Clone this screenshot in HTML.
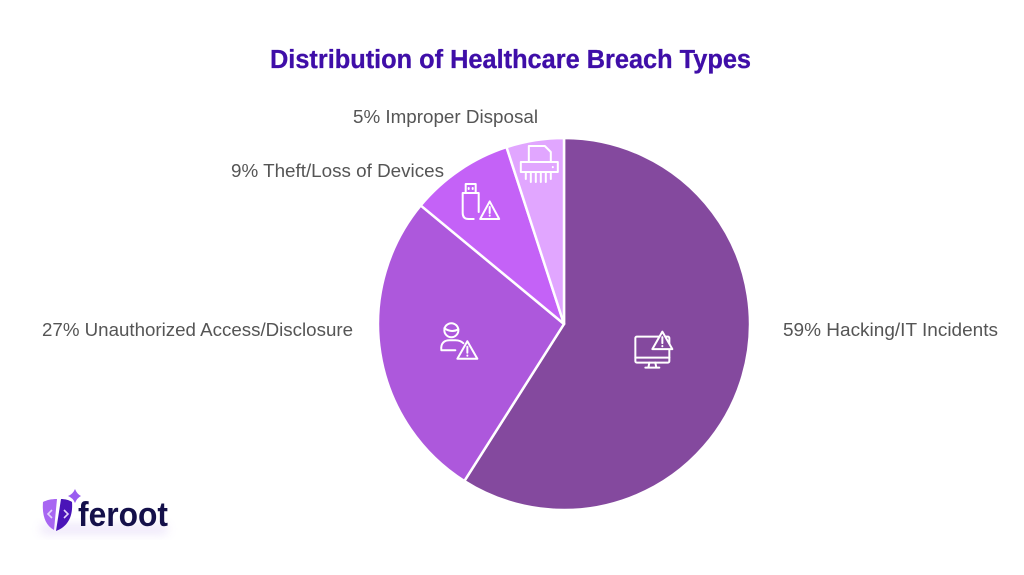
<!DOCTYPE html>
<html lang="en">
<head>
<meta charset="utf-8">
<title>Distribution of Healthcare Breach Types</title>
<style>
html,body{margin:0;padding:0;background:#fff;width:1024px;height:575px;overflow:hidden}
svg{display:block}
text{font-family:"Liberation Sans",sans-serif}
.lbl{font-size:18px;fill:#555}
.ic{fill:none;stroke:#fff;stroke-width:2;stroke-linecap:round;stroke-linejoin:round}
</style>
</head>
<body>
<svg id="chart" width="1024" height="575" viewBox="0 0 1024 575">
  <defs>
    <filter id="glow" x="-30%" y="-60%" width="160%" height="220%"><feGaussianBlur stdDeviation="5"/></filter>
  </defs>
  <text x="270" y="68" font-size="25.500" font-weight="700" fill="#3f0ea8" stroke="#3f0ea8" stroke-width=".3" textLength="481" lengthAdjust="spacingAndGlyphs">Distribution of Healthcare Breach Types</text>
  <g id="slices"></g>
  <g id="icons"></g>
  <text class="lbl" id="label-0" x="783" y="336" textLength="215" lengthAdjust="spacingAndGlyphs"></text>
  <text class="lbl" id="label-1" x="42" y="336" textLength="311" lengthAdjust="spacingAndGlyphs"></text>
  <text class="lbl" id="label-2" x="231" y="177" textLength="213" lengthAdjust="spacingAndGlyphs"></text>
  <text class="lbl" id="label-3" x="353" y="123" textLength="185" lengthAdjust="spacingAndGlyphs"></text>
  <g>
    <rect x="40" y="524" width="128" height="10" rx="5" fill="#d9c8f5" opacity=".45" filter="url(#glow)"/>
    <path d="M57 499 C51 499 47 500 43 502 C42 515 45 525 54 530 Z" fill="#a866f2"/>
    <path d="M61 499 C65 499 69 500 72 502 C73 515 69 526 56 531 Z" fill="#4a14b8"/>
    <path d="M52 510 L48 514 L52 518 M64 510 L68 514 L64 518" fill="none" stroke="#e4d4fb" stroke-width="1.600"/>
    <path d="M75 489 Q77 494 81 496 Q77 498 75 503 Q73 498 68 496 Q73 494 75 489 Z" fill="#9a5cf0"/>
    <text x="78" y="526" font-size="34" font-weight="700" fill="#14104a" textLength="90" lengthAdjust="spacingAndGlyphs">feroot</text>
  </g>
</svg>
<script>
const categories = ["Hacking/IT Incidents", "Unauthorized Access/Disclosure", "Theft/Loss of Devices", "Improper Disposal"];
const shares = [59, 27, 9, 5];
const colors = ["#84499e", "#ad58dc", "#c462f7", "#e1a6ff"];
const iconMarkup = [
  '<rect x="-17" y="-13" width="34" height="26" rx="1.500"/><path d="M-17 8 H17 M-3 13 L-4 18 M3 13 L4 18 M-7 18 H7"/><g transform="translate(10,-9)"><path d="M0-9 L10 8.500 H-10 Z" fill="#84499e"/><path d="M0-3.500 V2.500 M0 5.300 V5.600"/></g>',
  '<circle cx="-4" cy="-11" r="7"/><path d="M-11-13 Q-4-8 3-12"/><path d="M-14 9 C-15 1 -10-1 -6-1 H0 C4-1 6 0 8 2 M-14 9 H0"/><g transform="translate(12,9)"><path d="M0-9 L10 8.500 H-10 Z" fill="#ad58dc"/><path d="M0-3.500 V2.500 M0 5.300 V5.600"/></g>',
  '<path d="M-14-7 V-16 H-4 V-7 M-17-7 H-1 V12 M-17-7 V13 Q-17 19 -11 19 H-6"/><path d="M-11-12 V-11 M-7-12 V-11"/><g transform="translate(10,10)"><path d="M0-8.500 L9.500 9 H-9.500 Z" fill="#c462f7"/><path d="M0-3 V3 M0 5.500 V5.800"/></g>',
  '<g transform="translate(-2,0)"><path d="M-8-3 V-19 H8 L14-13 V-3"/><path d="M-16-3 H21 V7 H-16 Z"/><path d="M-11 7 V14 M-6 7 V17 M-1 7 V17 M4 7 V17 M9 7 V17 M14 7 V14"/><path d="M16 2 V2.300"/></g>'
];
const CX = 564, CY = 324, R = 186;
const iconRadii = [92, 110, 150, 161];
const total = shares.reduce(function (a, b) { return a + b; }, 0);
function angle(v) { return v / total * Math.PI * 2; }
function px(r, a) { return CX + r * Math.sin(a); }
function py(r, a) { return CY - r * Math.cos(a); }
const NS = "http://www.w3.org/2000/svg";
const sliceGroup = document.getElementById("slices");
const iconGroup = document.getElementById("icons");
let cum = 0;
shares.forEach(function (v, i) {
  const a0 = angle(cum), a1 = angle(cum + v), mid = (a0 + a1) / 2;
  const path = document.createElementNS(NS, "path");
  path.setAttribute("d", "M" + CX + " " + CY + " L" + px(R, a0) + " " + py(R, a0) + " A" + R + " " + R + " 0 " + (a1 - a0 > Math.PI ? 1 : 0) + " 1 " + px(R, a1) + " " + py(R, a1) + " Z");
  path.setAttribute("fill", colors[i]);
  path.setAttribute("stroke", "#fff");
  path.setAttribute("stroke-width", "2.500");
  path.setAttribute("stroke-linejoin", "round");
  
  
  sliceGroup.appendChild(path);
  const g = document.createElementNS(NS, "g");
  g.setAttribute("class", "ic");
  g.setAttribute("transform", "translate(" + px(iconRadii[i], mid) + "," + py(iconRadii[i], mid) + ")");
  
  
  g.innerHTML = iconMarkup[i];
  iconGroup.appendChild(g);
  document.getElementById("label-" + i).textContent = v + "% " + categories[i];
  cum += v;
});
</script>
</body>
</html>
